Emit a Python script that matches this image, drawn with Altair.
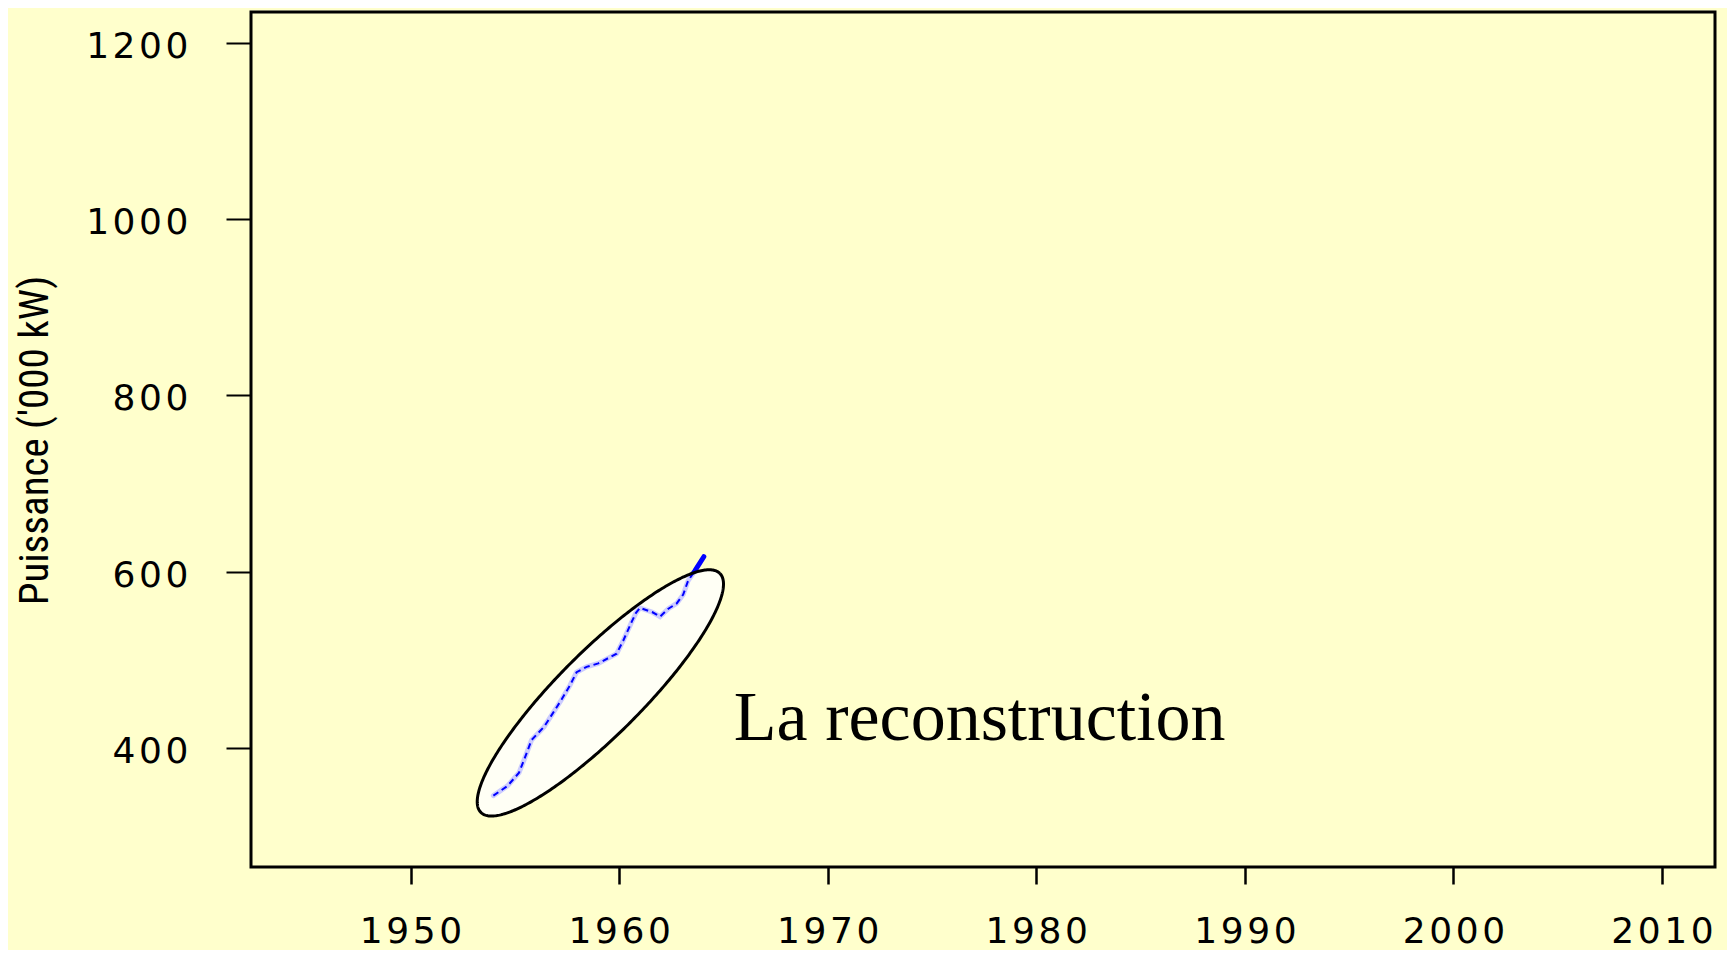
import altair as alt
import pandas as pd
import numpy as np

# ---- data ----
years = [1953.97, 1954.65, 1955.2, 1955.45, 1955.8, 1956.4, 1956.81, 1957.24, 1957.64,
         1957.96, 1958.44, 1959.0, 1959.48, 1959.88, 1960.2, 1960.6, 1960.8, 1961.0,
         1961.6, 1961.96, 1962.36, 1962.76, 1963.07, 1963.31, 1963.63, 1964.06]
power = [346, 357, 372, 387, 409, 424, 439, 455, 471,
         486, 492, 496, 502, 507, 522, 543, 553, 559,
         554, 549, 558, 564, 574, 590, 601, 617]

x_ticks = [1950, 1960, 1970, 1980, 1990, 2000, 2010]
y_ticks = [400, 600, 800, 1000, 1200]
x_domain = [1942.35, 2012.54]
y_domain = [265, 1235]

label_text = ["La reconstruction"]
label_year = [1965.5]
label_value = [409]

y_title = "Puissance ('000 kW)"

# ---- ellipse annotation (drawn in data space via the scales) ----
W, H = 1464, 855
px_per_year = W / (x_domain[1] - x_domain[0])
px_per_unit = H / (y_domain[1] - y_domain[0])
ell_cx, ell_cy = 1959.1, 462.5
a_px, b_px, phi = 169.0, 42.0, np.deg2rad(45)

c, s = np.cos(phi), np.sin(phi)
t = np.linspace(0, 2 * np.pi, 361)
px = a_px * np.cos(t) * c - b_px * np.sin(t) * s
py = a_px * np.cos(t) * s + b_px * np.sin(t) * c
outline = pd.DataFrame({
    "year": ell_cx + px / px_per_year,
    "value": ell_cy + py / px_per_unit,
    "order": np.arange(len(t)),
})
xmax = np.sqrt((a_px * c) ** 2 + (b_px * s) ** 2)
u = np.linspace(0, np.pi, 300)
xs = -xmax * np.cos(u)
A = s ** 2 / a_px ** 2 + c ** 2 / b_px ** 2
B = 2 * xs * c * s * (1 / a_px ** 2 - 1 / b_px ** 2)
C = xs ** 2 * (c ** 2 / a_px ** 2 + s ** 2 / b_px ** 2) - 1
disc = np.clip(B ** 2 - 4 * A * C, 0, None)
y_hi = (-B + np.sqrt(disc)) / (2 * A)
y_lo = (-B - np.sqrt(disc)) / (2 * A)
fill_df = pd.DataFrame({
    "year": ell_cx + xs / px_per_year,
    "hi": ell_cy + y_hi / px_per_unit,
    "lo": ell_cy + y_lo / px_per_unit,
})

series = pd.DataFrame({"year": years, "value": power})
label_df = pd.DataFrame({"year": label_year, "value": label_value, "text": label_text})

xscale = alt.Scale(domain=x_domain, nice=False, zero=False)
yscale = alt.Scale(domain=y_domain, nice=False, zero=False)

# widen the digits slightly (the reference uses an extended face)
spaced = "join(split(datum.label, ''), '\u200a')"

x_axis = alt.Axis(values=x_ticks, format="d", title=None, grid=False, domain=False,
                  tickSize=17, tickWidth=2.5, tickColor="black",
                  labelFont="DejaVu Sans", labelFontSize=36, labelFontWeight="normal",
                  labelColor="black", labelExpr=spaced,
                  labelBaseline="alphabetic", labelPadding=58, labelFlush=False)
y_axis = alt.Axis(values=y_ticks, format="d", title=y_title, grid=False, domain=False,
                  tickSize=25, tickWidth=2, tickColor="black",
                  labelFont="DejaVu Sans", labelFontSize=36, labelFontWeight="normal",
                  labelColor="black", labelExpr=spaced,
                  labelPadding=38, labelOffset=3.5, labelFlush=False,
                  titleFont="Liberation Sans Narrow, Roboto Condensed, Liberation Sans",
                  titleFontSize=41, titleFontWeight="normal", titleColor="black",
                  titleAngle=270, titleAlign="center", titleBaseline="middle",
                  titleX=-216, titleY=428)

base_x = alt.X("year:Q", scale=xscale, axis=x_axis)
base_y = alt.Y("value:Q", scale=yscale, axis=y_axis)

line_thick = alt.Chart(series).mark_line(color="#0000FF", strokeWidth=5, strokeCap="round").encode(
    x=base_x, y=base_y)

ell_fill = alt.Chart(fill_df).mark_area(color="white", opacity=0.8).encode(
    x=alt.X("year:Q", scale=xscale, axis=x_axis),
    y=alt.Y("hi:Q", scale=yscale, axis=y_axis),
    y2="lo:Q")

line_dash = alt.Chart(series).mark_line(color="#0000FF", strokeWidth=2, strokeDash=[6, 4]).encode(
    x=base_x, y=base_y)

ell_line = alt.Chart(outline).mark_line(color="black", strokeWidth=3).encode(
    x=alt.X("year:Q", scale=xscale, axis=x_axis),
    y=alt.Y("value:Q", scale=yscale, axis=y_axis),
    order="order:Q")

label = alt.Chart(label_df).mark_text(font="Liberation Serif", fontSize=70, align="left",
                                      baseline="alphabetic", color="black").encode(
    x=alt.X("year:Q", scale=xscale, axis=x_axis),
    y=alt.Y("value:Q", scale=yscale, axis=y_axis),
    text="text:N")

chart = alt.layer(line_thick, ell_fill, line_dash, ell_line, label).properties(
    width=W, height=H,
    autosize=alt.AutoSizeParams(type="none"),
    padding={"left": 243, "top": 4, "right": 12, "bottom": 83},
    background="#FFFFCC",
).configure_view(stroke="black", strokeWidth=3)

chart.save("out.html", embed_options={"renderer": "svg", "actions": False})
